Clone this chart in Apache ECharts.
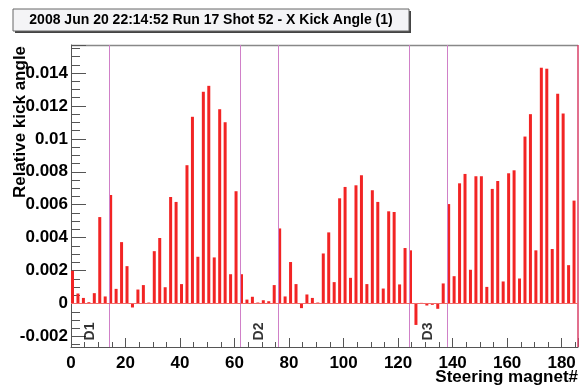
<!DOCTYPE html>
<html>
<head>
<meta charset="utf-8">
<script src="https://cdn.jsdelivr.net/npm/echarts@6/dist/echarts.min.js"></script>
<style>
  html, body { margin: 0; padding: 0; background: #fff; }
  #chart { width: 585px; height: 387px; }
</style>
</head>
<body>
<div id="chart"></div>
<script>
// relative kick angle, one value per bin of 2 magnets (0, 2, 4 ... 184)
const kick = [
  0.00199, 0.00061, 0.00034, 0.00008, 0.00063, 0.00525, 0.00043, 0.00659, 0.00089, 0.00373,
  0.00227, -0.00024, 0.00085, 0.00112, 0.00006, 0.00318, 0.00398, 0.00099, 0.00647, 0.00617,
  0.00118, 0.0084, 0.01134, 0.00284, 0.01286, 0.01322, 0.0028, 0.0118, 0.01101, 0.00178,
  0.00682, 0.00178, 0.00024, 0.00041, 0.00006, 0.0002, 0.00014, 0.00112, 0.00456, 0.00043,
  0.00252, 0.00118, -0.00028, 0.00055, 0.00034, 0.00006, 0.00304, 0.00432, 0.0013, 0.00639,
  0.00708, 0.00156, 0.00718, 0.00779, 0.00118, 0.00688, 0.00617, 0.00091, 0.0056, 0.00556,
  0.00116, 0.00337, 0.00323, -0.0013, 0.00004, -0.00012, -0.00008, -0.00032, 0.00122, 0.00604,
  0.00166, 0.0073, 0.00787, 0.00205, 0.00773, 0.00773, 0.00101, 0.00696, 0.00744, 0.00134,
  0.00791, 0.00809, 0.00152, 0.01014, 0.0115, 0.00323, 0.01432, 0.01426, 0.00331, 0.01274,
  0.01154, 0.00233, 0.00625
];
const binWidth = 2;
const magnet = kick.map((v, i) => i * binWidth);

// section borders and their labels
const borders = [14, 62, 76, 124, 138];
const sectionNames = ['D1', 'D2', 'D3'];
const sectionPos = [7, 69, 131];
const sectionY = -0.0017;

const xTicks = [0, 20, 40, 60, 80, 100, 120, 140, 160, 180];

const titleText = '2008 Jun 20 22:14:52 Run 17 Shot 52 - X Kick Angle (1)';
const font = 'Liberation Sans, Arial, Helvetica, sans-serif';

const chart = echarts.init(document.getElementById('chart'));

const fmtY = v => {
  const r = Math.round(v / 0.002);
  if (Math.abs(v - r * 0.002) > 1e-9) return '';
  return String(+(r * 0.002).toFixed(3));
};

const option = {
  animation: false,
  backgroundColor: '#fff',
  grid: { left: 71, right: 7, top: 45, bottom: 40, containLabel: false, outerBoundsMode: 'none' },
  xAxis: {
    type: 'value',
    min: 0,
    max: 186,
    interval: 20,
    splitLine: { show: false },
    axisLine: { show: true, onZero: false, lineStyle: { color: '#555', width: 1 } },
    axisTick: { show: true, inside: true, length: 9, lineStyle: { color: '#555' } },
    minorTick: { show: true, splitNumber: 4, length: 5, lineStyle: { color: '#555' } },
    axisLabel: {
      margin: 8,
      color: '#000',
      fontFamily: font,
      fontWeight: 'bold',
      fontSize: 17,
      formatter: v => (xTicks.includes(v) ? String(v) : '')
    }
  },
  yAxis: {
    type: 'value',
    min: -0.00264,
    max: 0.0157,
    splitNumber: 9,
    splitLine: { show: false },
    axisLine: { show: true, onZero: false, lineStyle: { color: '#555', width: 1 } },
    axisTick: { show: true, inside: true, length: 15, lineStyle: { color: '#555' } },
    minorTick: { show: true, splitNumber: 4, length: 9, lineStyle: { color: '#555' } },
    axisLabel: {
      margin: 3,
      color: '#000',
      fontFamily: font,
      fontWeight: 'bold',
      fontSize: 17,
      showMinLabel: true,
      showMaxLabel: true,
      formatter: fmtY
    }
  },
  graphic: [
    // top frame line
    { type: 'line', shape: { x1: 71, y1: 45.5, x2: 578, y2: 45.5 }, style: { stroke: '#888', lineWidth: 1.5 } },
    // title box with shadow
    { type: 'rect', shape: { x: 15, y: 11, width: 396, height: 22 }, style: { fill: '#444' } },
    { type: 'rect', shape: { x: 13, y: 9, width: 396, height: 22 }, style: { fill: '#f4f4f6', stroke: '#666', lineWidth: 1 } },
    {
      type: 'text', x: 211, y: 20,
      style: { text: titleText, fill: '#000', font: 'bold 14px ' + font, align: 'center', verticalAlign: 'middle' }
    },
    {
      type: 'text', x: 20, y: 122, rotation: Math.PI / 2,
      style: { text: 'Relative kick angle', fill: '#000', font: 'bold 17px ' + font, align: 'center', verticalAlign: 'middle' }
    },
    {
      type: 'text', x: 578, y: 377,
      style: { text: 'Steering magnet#', fill: '#000', font: 'bold 17px ' + font, align: 'right', verticalAlign: 'middle' }
    }
  ],
  series: [
    {
      type: 'custom',
      clip: true,
      data: magnet.map((m, i) => [m, kick[i]]),
      renderItem: (params, api) => {
        const x = api.value(0);
        const v = api.value(1);
        const p0 = api.coord([x, 0]);
        const p1 = api.coord([x + 1.1, v]);
        return {
          type: 'rect',
          shape: {
            x: p0[0],
            y: Math.min(p0[1], p1[1]),
            width: p1[0] - p0[0],
            height: Math.abs(p1[1] - p0[1])
          },
          style: { fill: '#f22424' }
        };
      },
      markLine: {
        silent: true,
        symbol: 'none',
        label: { show: false },
        data: borders.map(b => ({ xAxis: b, lineStyle: { color: '#d080c8', width: 1, type: 'solid' } }))
          .concat([
            { xAxis: 186, lineStyle: { color: '#d84068', width: 1.5, type: 'solid' } },
            { yAxis: 0, lineStyle: { color: '#f06a6a', width: 1, type: 'solid' } }
          ])
      }
    },
    {
      type: 'scatter',
      symbolSize: 0,
      silent: true,
      data: sectionNames.map((n, i) => ({ name: n, value: [sectionPos[i], sectionY] })),
      label: {
        show: true,
        position: 'inside',
        rotate: 90,
        formatter: '{b}',
        color: '#000',
        fontFamily: font,
        fontWeight: 'bold',
        fontSize: 14
      }
    }
  ]
};

chart.setOption(option);
</script>
</body>
</html>
